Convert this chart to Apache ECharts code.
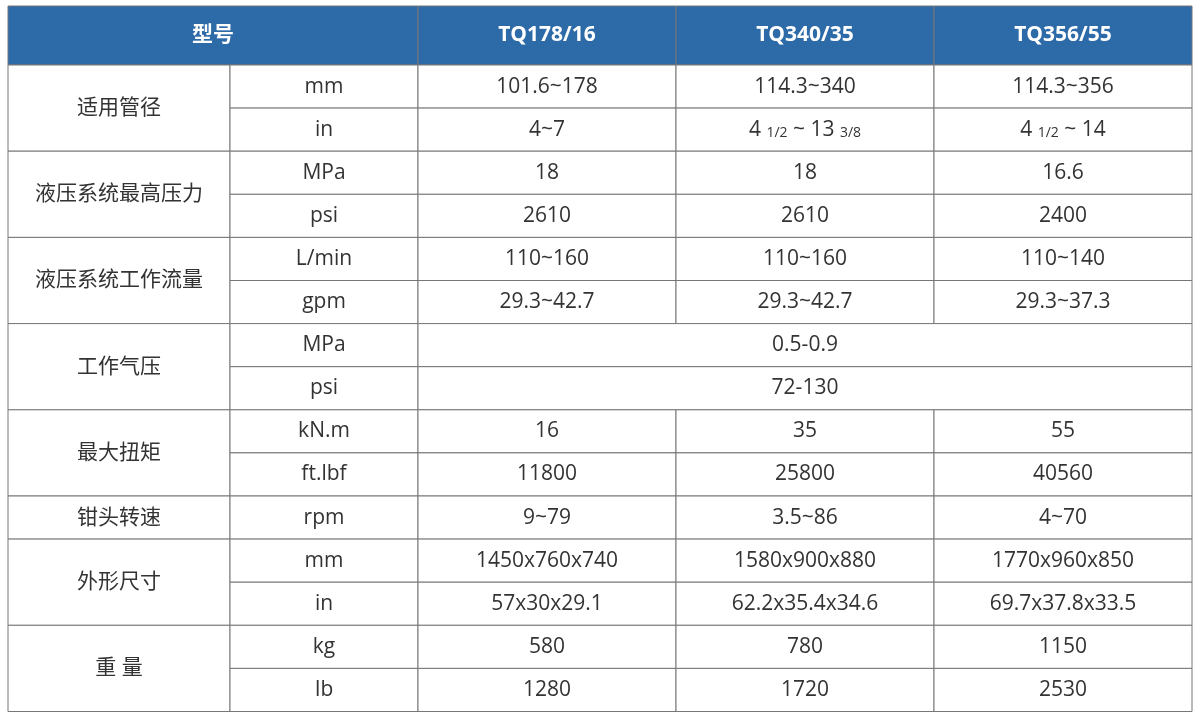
<!DOCTYPE html>
<html>
<head>
<meta charset="utf-8">
<script src="https://cdn.jsdelivr.net/npm/echarts@6/dist/echarts.min.js"></script>
<style>html,body{margin:0;padding:0;background:#fff}#main{width:1200px;height:722px}</style>
</head>
<body>
<div id="main"></div>
<script>
var models = ['TQ178/16', 'TQ340/35', 'TQ356/55'];
var groups = [
    { name: '适用管径', rows: 2 },
    { name: '液压系统最高压力', rows: 2 },
    { name: '液压系统工作流量', rows: 2 },
    { name: '工作气压', rows: 2, merged: true },
    { name: '最大扭矩', rows: 2 },
    { name: '钳头转速', rows: 1 },
    { name: '外形尺寸', rows: 2 },
    { name: '重 量', rows: 2 }
];
var units = ['mm', 'in', 'MPa', 'psi', 'L/min', 'gpm', 'MPa', 'psi', 'kN.m', 'ft.lbf', 'rpm', 'mm', 'in', 'kg', 'Ib'];
var values = [
    ['101.6~178', '114.3~340', '114.3~356'],
    ['4~7', '4 {s|1/2} ~ 13 {s|3/8}', '4 {s|1/2} ~ 14'],
    ['18', '18', '16.6'],
    ['2610', '2610', '2400'],
    ['110~160', '110~160', '110~140'],
    ['29.3~42.7', '29.3~42.7', '29.3~37.3'],
    ['0.5-0.9'],
    ['72-130'],
    ['16', '35', '55'],
    ['11800', '25800', '40560'],
    ['9~79', '3.5~86', '4~70'],
    ['1450x760x740', '1580x900x880', '1770x960x850'],
    ['57x30x29.1', '62.2x35.4x34.6', '69.7x37.8x33.5'],
    ['580', '780', '1150'],
    ['1280', '1720', '2530']
];

var colX = [8, 230, 418, 676, 934, 1192];
var top0 = 6, headH = 59, rowH = 43.1;
var line = '#777';
var txt = '#333';
var font = '"Open Sans", "Noto Sans CJK SC", sans-serif';
var els = [];

function cell(x0, x1, y0, y1, text, fill, color, weight) {
    els.push({
        type: 'rect',
        shape: { x: x0, y: y0, width: x1 - x0, height: y1 - y0 },
        style: { fill: fill || '#fff', stroke: line, lineWidth: 1 }
    });
    els.push({
        type: 'text',
        x: (x0 + x1) / 2, y: (y0 + y1) / 2,
        style: {
            text: text, fill: color || txt, font: (weight || 'normal') + ' 21px ' + font,
            align: 'center', verticalAlign: 'middle',
            rich: { s: { fontSize: 14, fill: color || txt, fontFamily: font, padding: [6, 0, 0, 0] } }
        }
    });
}

// header
var hy1 = top0 + headH;
cell(colX[0], colX[2], top0, hy1, '型号', '#2d6aa8', '#fff', 'bold');
models.forEach(function (m, i) {
    cell(colX[i + 2], colX[i + 3], top0, hy1, m, '#2d6aa8', '#fff', 'bold');
});

// body
var r = 0;
groups.forEach(function (g) {
    var gy0 = hy1 + r * rowH, gy1 = hy1 + (r + g.rows) * rowH;
    cell(colX[0], colX[1], gy0, gy1, g.name);
    for (var k = 0; k < g.rows; k++) {
        var y0 = hy1 + (r + k) * rowH, y1 = y0 + rowH;
        cell(colX[1], colX[2], y0, y1, units[r + k]);
        var vals = values[r + k];
        if (g.merged) {
            cell(colX[2], colX[5], y0, y1, vals[0]);
        } else {
            vals.forEach(function (v, i) { cell(colX[i + 2], colX[i + 3], y0, y1, v); });
        }
    }
    r += g.rows;
});

var chart = echarts.init(document.getElementById('main'));
chart.setOption({ backgroundColor: '#fff', graphic: { elements: els } });
window.addEventListener('resize', function () { chart.resize(); });
</script>
</body>
</html>
